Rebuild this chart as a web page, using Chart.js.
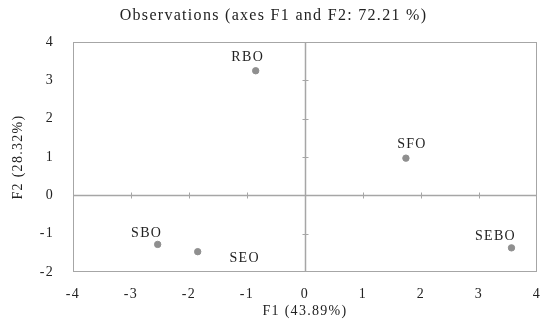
<!DOCTYPE html>
<html><head><meta charset="utf-8">
<script src="https://cdn.jsdelivr.net/npm/chart.js@4/dist/chart.umd.min.js"></script>
<style>html,body{margin:0;padding:0;background:#fff}#wrap{width:542px;height:324px}</style>
</head><body><div id="wrap"><canvas id="c" width="542" height="324"></canvas></div>
<script>
const observations = ['RBO', 'SFO', 'SEBO', 'SBO', 'SEO'];
const f1Values = [-0.85, 1.74, 3.56, -2.54, -1.85];
const f2Values = [3.25, 0.97, -1.37, -1.28, -1.47];
const xTickValues = [-4, -3, -2, -1, 0, 1, 2, 3, 4];
const yTickValues = [-2, -1, 0, 1, 2, 3, 4];

const FONT = "'Liberation Serif', 'DejaVu Serif', serif";
const GRAY = '#a6a6a6';
const TEXT = '#222';
const SPACING = '1.3px';

// label placement (dx, dy in px relative to the point)
const labelPlacement = {
  RBO: [-8, -13], SFO: [6, -14], SEBO: [-16, -12], SBO: [-11, -11], SEO: [47, 7]
};

const spacingPlugin = {
  id: 'spacing',
  beforeLayout(chart) { chart.ctx.letterSpacing = SPACING; },
  beforeDraw(chart) { chart.ctx.letterSpacing = SPACING; }
};

const framePlugin = {
  id: 'frame',
  afterDatasetsDraw(chart) {
    const {ctx, chartArea: a, scales: {x, y}} = chart;
    ctx.save();
    ctx.strokeStyle = GRAY;
    ctx.lineWidth = 1;
    ctx.strokeRect(a.left + 0.5, a.top + 0.5, a.right - a.left - 1, a.bottom - a.top - 1);
    const x0 = Math.round(x.getPixelForValue(0)) + 0.5;
    const y0 = Math.round(y.getPixelForValue(0)) + 0.5;
    ctx.lineWidth = 1.5;
    ctx.beginPath();
    ctx.moveTo(a.left, y0); ctx.lineTo(a.right, y0);
    ctx.moveTo(x0, a.top); ctx.lineTo(x0, a.bottom);
    ctx.stroke();
    ctx.lineWidth = 1;
    ctx.beginPath();
    xTickValues.filter(v => v > x.min && v < x.max && v !== 0).forEach(v => {
      const px = Math.round(x.getPixelForValue(v)) + 0.5;
      ctx.moveTo(px, y0 - 3); ctx.lineTo(px, y0 + 3);
    });
    yTickValues.filter(v => v > y.min && v < y.max && v !== 0).forEach(v => {
      const py = Math.round(y.getPixelForValue(v)) + 0.5;
      ctx.moveTo(x0 - 3, py); ctx.lineTo(x0 + 3, py);
    });
    ctx.stroke();
    // point labels
    ctx.fillStyle = TEXT;
    ctx.font = '14px ' + FONT;
    ctx.letterSpacing = SPACING;
    ctx.textAlign = 'center';
    ctx.textBaseline = 'middle';
    const meta = chart.getDatasetMeta(0);
    meta.data.forEach((pt, i) => {
      const name = observations[i];
      const off = labelPlacement[name] || [0, -12];
      ctx.fillText(name, pt.x + off[0], pt.y + off[1]);
    });
    ctx.restore();
  }
};

new Chart(document.getElementById('c'), {
  type: 'scatter',
  data: {
    datasets: [{
      label: 'Observations',
      data: observations.map((n, i) => ({x: f1Values[i], y: f2Values[i]})),
      backgroundColor: '#8f8f8f',
      borderColor: '#8f8f8f',
      pointRadius: 3.2,
      pointHoverRadius: 3.2
    }]
  },
  options: {
    responsive: false,
    animation: false,
    layout: {padding: {left: 10, right: 5, top: 0, bottom: 4}},
    plugins: {
      legend: {display: false},
      tooltip: {enabled: false},
      title: {
        display: true,
        text: 'Observations (axes F1 and F2: 72.21 %)',
        color: TEXT,
        font: {family: FONT, size: 16, weight: 'normal'},
        padding: {top: 6, bottom: 16.8}
      }
    },
    scales: {
      x: {
        type: 'linear', min: -4, max: 4,
        afterFit: s => { s.height = 48; s.paddingLeft = 0; s.paddingRight = 0; },
        afterBuildTicks: s => { s.ticks = xTickValues.map(v => ({value: v})); },
        grid: {display: false, drawTicks: false},
        border: {display: false},
        ticks: {color: TEXT, font: {family: FONT, size: 14}, padding: 14, maxRotation: 0},
        title: {display: true, text: 'F1 (43.89%)', color: TEXT, font: {family: FONT, size: 14}, padding: 0}
      },
      y: {
        type: 'linear', min: -2, max: 4,
        afterFit: s => { s.width = 63; s.paddingTop = 0; s.paddingBottom = 0; },
        afterBuildTicks: s => { s.ticks = yTickValues.map(v => ({value: v})); },
        grid: {display: false, drawTicks: false},
        border: {display: false},
        ticks: {color: TEXT, font: {family: FONT, size: 14}, padding: 19},
        title: {display: true, text: 'F2 (28.32%)', color: TEXT, font: {family: FONT, size: 14}, padding: 0}
      }
    }
  },
  plugins: [spacingPlugin, framePlugin]
});
</script>
</body></html>
